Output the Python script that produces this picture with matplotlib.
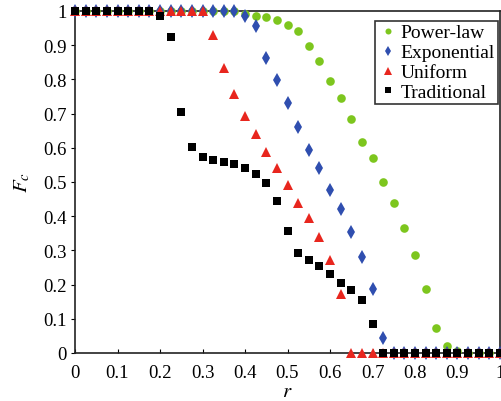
import numpy as np
import matplotlib
matplotlib.use("Agg")
import matplotlib.pyplot as plt

# r values, step 0.025 from 0 to 1
r = [i * 0.025 for i in range(41)]

power_law = [1.0] * 16 + [0.991, 0.986, 0.982, 0.975, 0.960, 0.942, 0.899, 0.855, 0.794,
                          0.746, 0.684, 0.618, 0.570, 0.499, 0.440, 0.365, 0.286, 0.187,
                          0.073, 0.020, 0.005, 0.0, 0.0, 0.0, 0.0]
exponential = [1.0] * 16 + [0.986, 0.955, 0.864, 0.799, 0.730, 0.662, 0.594, 0.540, 0.478,
                            0.421, 0.355, 0.281, 0.187, 0.044] + [0.0] * 11
uniform = [1.0] * 13 + [0.930, 0.832, 0.757, 0.692, 0.640, 0.587, 0.540, 0.491, 0.440,
                        0.394, 0.339, 0.273, 0.173] + [0.0] * 15
traditional = [1.0] * 8 + [0.984, 0.925, 0.706, 0.602, 0.573, 0.563, 0.558, 0.553, 0.542,
                           0.524, 0.497, 0.444, 0.356, 0.292, 0.271, 0.254, 0.232, 0.205,
                           0.183, 0.156, 0.085] + [0.0] * 12

tick_labels = ['0', '0.1', '0.2', '0.3', '0.4', '0.5', '0.6', '0.7', '0.8', '0.9', '1']

plt.rcParams['font.family'] = ['Liberation Serif', 'DejaVu Serif']
plt.rcParams['mathtext.fontset'] = 'stix'

fig = plt.figure(figsize=(5.02, 4.02), dpi=100)
ax = fig.add_axes([75 / 502, 1 - 354 / 402, 425 / 502, 342 / 402])

ax.plot(r, power_law, 'o', color='#7dc61e', markersize=6.2, markeredgewidth=0,
        label='Power-law', clip_on=False, zorder=3)
ax.plot(r, exponential, 'd', color='#2f4eaf', markersize=7.5, markeredgewidth=0,
        label='Exponential', clip_on=False, zorder=4)
ax.plot(r, uniform, '^', color='#e8261e', markersize=7.5, markeredgewidth=0,
        label='Uniform', clip_on=False, zorder=5)
ax.plot(r, traditional, 's', color='black', markersize=5.8, markeredgewidth=0,
        label='Traditional', clip_on=False, zorder=6)

ax.set_xlim(0, 1)
ax.set_ylim(0, 1)
ax.set_xticks(np.arange(0, 1.01, 0.1))
ax.set_yticks(np.arange(0, 1.01, 0.1))
ax.set_xticklabels(tick_labels)
ax.set_yticklabels(tick_labels)
ax.tick_params(axis='x', direction='in', length=3, labelsize=13.5, pad=8)
ax.tick_params(axis='y', direction='out', length=3, labelsize=13.5, pad=3)
for s in ax.spines.values():
    s.set_linewidth(1.2)
    s.set_color('#222222')

ax.set_xlabel('$r$', fontsize=15, labelpad=1)
ax.set_ylabel('$F_c$', fontsize=15, labelpad=8)

leg = ax.legend(loc='upper right', bbox_to_anchor=(0.995, 0.971), fontsize=14,
                frameon=True, fancybox=False, borderpad=0.15, labelspacing=0.12,
                handletextpad=0.15, handlelength=1.0, borderaxespad=0, markerscale=0.7)
leg.get_frame().set_edgecolor('black')
leg.get_frame().set_linewidth(1.2)

fig.savefig('out.png', dpi=100)
